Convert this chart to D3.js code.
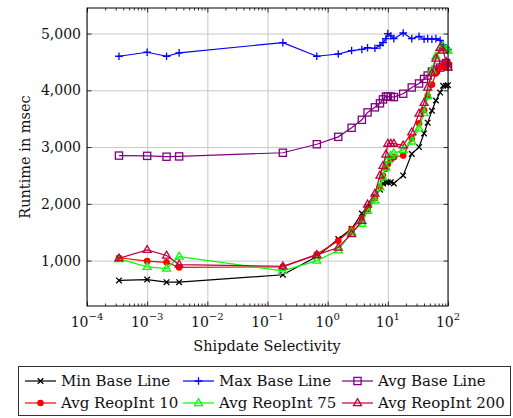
<!DOCTYPE html>
<html>
<head>
<meta charset="utf-8">
<script src="https://cdn.jsdelivr.net/npm/d3@7"></script>
<style>
  body { margin: 0; background: #fff; }
  svg { font-family: "DejaVu Serif", serif; }
  .grid line { stroke: #c8c8c8; stroke-width: 1; }
  .grid path { display: none; }
  .ticks path { display: none; }
  .ticks line { stroke: #000; stroke-width: 0.8; }
</style>
</head>
<body>
<div id="chart"></div>
<script>
// Selectivity (x) shared by every series
const selectivity = [0.00034, 0.001, 0.0021, 0.0034, 0.18, 0.66, 1.5, 2.5, 3.7, 4.6, 6.1, 7.4, 8.3, 9.3,
    10, 11.2, 12.6, 18, 25, 33, 40, 46, 54, 63, 74, 83, 93, 100];

// Runtime in msec per series
const minBase = [650, 665, 620, 620, 750, 1070, 1380, 1560, 1830, 1950, 2130, 2250, 2360, 2380,
    2380, 2380, 2360, 2500, 2880, 3000, 3240, 3430, 3640, 3820, 3960, 4080, 4080, 4090];
const maxBase = [4600, 4670, 4600, 4660, 4840, 4600, 4640, 4700, 4720, 4750, 4740, 4790, 4840, 4910,
    5000, 4960, 4910, 5010, 4910, 4950, 4900, 4910, 4900, 4910, 4880, 4800, 4750, 4720];
const avgBase = [2850, 2845, 2830, 2835, 2900, 3050, 3180, 3340, 3480, 3610, 3700, 3770, 3840, 3890,
    3890, 3890, 3880, 3940, 4050, 4120, 4200, 4260, 4330, 4360, 4400, 4450, 4480, 4420];
const avgReop10 = [1050, 990, 970, 880, 890, 1110, 1350, 1550, 1750, 1900, 2100, 2300, 2500, 2620,
    2700, 2780, 2820, 2850, 3150, 3420, 3650, 3900, 4100, 4300, 4400, 4450, 4420, 4470];
const avgReop75 = [1030, 890, 860, 1070, 820, 1000, 1180, 1500, 1650, 1880, 2060, 2290, 2470, 2640,
    2780, 2850, 2890, 2950, 3100, 3330, 3600, 3900, 4350, 4600, 4750, 4780, 4720, 4700];
const avgReop200 = [1040, 1190, 1090, 930, 900, 1100, 1230, 1470, 1700, 1990, 2180, 2500, 2670, 2870,
    3060, 3060, 3060, 3030, 3260, 3590, 3780, 4050, 4300, 4560, 4750, 4700, 4500, 4400];

const seriesNames = ['Min Base Line', 'Max Base Line', 'Avg Base Line',
    'Avg ReopInt 10', 'Avg ReopInt 75', 'Avg ReopInt 200'];
const seriesValues = [minBase, maxBase, avgBase, avgReop10, avgReop75, avgReop200];
const seriesColors = ['#000000', '#0000ff', '#800080', '#ff0000', '#00ff00', '#bf0040'];
const seriesMarks = ['x', 'plus', 'square', 'circle', 'triangle', 'triangle'];

const xTickExps = [-4, -3, -2, -1, 0, 1, 2];
const yTicks = [1000, 2000, 3000, 4000, 5000];

const width = 513, height = 418;
const plot = { left: 87, right: 448, top: 8, bottom: 306 };

const svg = d3.select('#chart').append('svg')
    .attr('width', width)
    .attr('height', height);

const x = d3.scaleLog().domain([1e-4, 100]).range([plot.left, plot.right]);
const y = d3.scaleLinear().domain([200, 5450]).range([plot.bottom, plot.top]);

const xMajor = xTickExps.map(e => Math.pow(10, e));
const xMinor = [];
xTickExps.slice(0, -1).forEach(e => {
    for (let k = 2; k <= 9; k++) xMinor.push(k * Math.pow(10, e));
});

// grid
svg.append('g').attr('class', 'grid')
    .attr('transform', `translate(0,${plot.bottom})`)
    .call(d3.axisBottom(x).tickValues(xMajor).tickSize(-(plot.bottom - plot.top)).tickFormat(''));
svg.append('g').attr('class', 'grid')
    .attr('transform', `translate(${plot.left},0)`)
    .call(d3.axisLeft(y).tickValues(yTicks).tickSize(-(plot.right - plot.left)).tickFormat(''));

// ticks on all four sides, pointing inward
const tickGroups = [
    [d3.axisBottom(x).tickValues(xMajor).tickSize(-4.5), `translate(0,${plot.bottom})`],
    [d3.axisBottom(x).tickValues(xMinor).tickSize(-2.5), `translate(0,${plot.bottom})`],
    [d3.axisTop(x).tickValues(xMajor).tickSize(-4.5), `translate(0,${plot.top})`],
    [d3.axisTop(x).tickValues(xMinor).tickSize(-2.5), `translate(0,${plot.top})`],
    [d3.axisLeft(y).tickValues(yTicks).tickSize(-4.5), `translate(${plot.left},0)`],
    [d3.axisRight(y).tickValues(yTicks).tickSize(-4.5), `translate(${plot.right},0)`]
];
tickGroups.forEach(([axis, tr]) => {
    svg.append('g').attr('class', 'ticks').attr('transform', tr)
        .call(axis.tickFormat(''));
});

// x tick labels 10^e
xMajor.forEach((v, i) => {
    const t = svg.append('text')
        .attr('x', x(v))
        .attr('y', 327)
        .attr('text-anchor', 'middle')
        .attr('font-size', 14)
        .attr('fill', '#111');
    t.append('tspan').text('10');
    const e = xTickExps[i];
    t.append('tspan')
        .attr('dy', -7)
        .attr('font-size', 10)
        .text(e < 0 ? '\u2212' + Math.abs(e) : String(e));
});

// y tick labels
yTicks.forEach(v => {
    svg.append('text')
        .attr('x', 81)
        .attr('y', y(v))
        .attr('dy', '0.36em')
        .attr('text-anchor', 'end')
        .attr('font-size', 14)
        .attr('fill', '#111')
        .text(d3.format(',')(v));
});

// axis labels
svg.append('text')
    .attr('x', 267)
    .attr('y', 351)
    .attr('text-anchor', 'middle')
    .attr('font-size', 14.5)
    .attr('fill', '#111')
    .text('Shipdate Selectivity');

svg.append('text')
    .attr('transform', `translate(30,${(plot.top + plot.bottom) / 2}) rotate(-90)`)
    .attr('text-anchor', 'middle')
    .attr('font-size', 14.5)
    .attr('fill', '#111')
    .text('Runtime in msec');

// marker helper
function drawMark(g, type, cx, cy, color) {
    if (type === 'x') {
        g.append('path')
            .attr('d', `M${cx - 2.8},${cy - 2.8}L${cx + 2.8},${cy + 2.8}M${cx - 2.8},${cy + 2.8}L${cx + 2.8},${cy - 2.8}`)
            .attr('stroke', color).attr('stroke-width', 1.3).attr('fill', 'none');
    } else if (type === 'plus') {
        g.append('path')
            .attr('d', `M${cx - 3.8},${cy}H${cx + 3.8}M${cx},${cy - 3.8}V${cy + 3.8}`)
            .attr('stroke', color).attr('stroke-width', 1.3).attr('fill', 'none');
    } else if (type === 'square') {
        g.append('rect')
            .attr('x', cx - 3.6).attr('y', cy - 3.6)
            .attr('width', 7.2).attr('height', 7.2)
            .attr('stroke', color).attr('stroke-width', 1.3).attr('fill', 'none');
    } else if (type === 'circle') {
        g.append('circle')
            .attr('cx', cx).attr('cy', cy).attr('r', 3.3)
            .attr('fill', color);
    } else if (type === 'triangle') {
        g.append('path')
            .attr('d', `M${cx},${cy - 4.3}L${cx + 4},${cy + 2.6}L${cx - 4},${cy + 2.6}Z`)
            .attr('stroke', color).attr('stroke-width', 1.3).attr('fill', 'none');
    }
}

// series
const line = d3.line().x(d => x(d[0])).y(d => y(d[1]));
const plotArea = svg.append('g');
seriesValues.forEach((vals, i) => {
    const pts = selectivity.map((s, j) => [s, vals[j]]);
    const g = plotArea.append('g');
    g.append('path')
        .attr('d', line(pts))
        .attr('fill', 'none')
        .attr('stroke', seriesColors[i])
        .attr('stroke-width', 1.2);
    pts.forEach(p => drawMark(g, seriesMarks[i], x(p[0]), y(p[1]), seriesColors[i]));
});

// frame
svg.append('rect')
    .attr('x', plot.left).attr('y', plot.top)
    .attr('width', plot.right - plot.left)
    .attr('height', plot.bottom - plot.top)
    .attr('fill', 'none')
    .attr('stroke', '#000')
    .attr('stroke-width', 1);

// legend
const legend = svg.append('g');
legend.append('rect')
    .attr('x', 18.5).attr('y', 366.5)
    .attr('width', 492).attr('height', 49)
    .attr('fill', '#fff')
    .attr('stroke', '#333')
    .attr('stroke-width', 1);

const legendCols = [25, 183, 342];
const legendRows = [381, 403];
seriesNames.forEach((name, i) => {
    const lx = legendCols[i % 3];
    const ly = legendRows[Math.floor(i / 3)];
    legend.append('line')
        .attr('x1', lx).attr('x2', lx + 31)
        .attr('y1', ly).attr('y2', ly)
        .attr('stroke', seriesColors[i])
        .attr('stroke-width', 1.2);
    drawMark(legend, seriesMarks[i], lx + 15.5, ly, seriesColors[i]);
    legend.append('text')
        .attr('x', lx + 36)
        .attr('y', ly)
        .attr('dy', '0.36em')
        .attr('font-size', 15)
        .attr('fill', '#111')
        .text(name);
});
</script>
</body>
</html>
